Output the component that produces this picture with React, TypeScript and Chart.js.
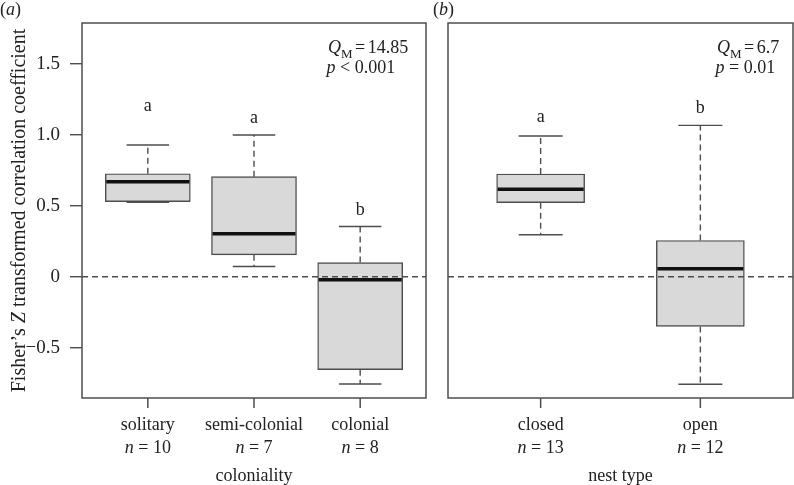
import React, { useEffect, useRef } from "react";
import { Chart, registerables } from "chart.js";

Chart.register(...registerables);

// ---------- data ----------
const colonialityGroups = ["solitary", "semi-colonial", "colonial"];
const colonialityN = [10, 7, 8];
const colonialityUpper = [0.93, 1.0, 0.355];
const colonialityQ3 = [0.727, 0.706, 0.1];
const colonialityMedian = [0.671, 0.303, -0.021];
const colonialityQ1 = [0.53, 0.155, -0.655];
const colonialityLower = [0.526, 0.073, -0.756];
const colonialityLetters = ["a", "a", "b"];
const colonialityLetterY = [1.169, 1.087, 0.437];
const colonialityQM = "14.85";
const colonialityP = "< 0.001";

const nestGroups = ["closed", "open"];
const nestN = [13, 12];
const nestUpper = [0.993, 1.068];
const nestQ3 = [0.725, 0.256];
const nestMedian = [0.617, 0.056];
const nestQ1 = [0.523, -0.35];
const nestLower = [0.296, -0.758];
const nestLetters = ["a", "b"];
const nestLetterY = [1.092, 1.153];
const nestQM = "6.7";
const nestP = "= 0.01";

const yTickValues = [-0.5, 0, 0.5, 1.0, 1.5];
const yTickLabels = ["\u22120.5", "0", "0.5", "1.0", "1.5"];
const yMin = -0.855;
const yMax = 1.79;
const yTitle = ["Fisher\u2019s ", "Z", " transformed correlation coefficient"];

// ---------- helpers ----------
const FONT = '"Liberation Serif", "Times New Roman", Times, serif';
const INK = "#222";
const LINE = "#4d4d4d";

type Part = { text: string; italic?: boolean; sub?: boolean; dx?: number };

function drawRich(ctx: CanvasRenderingContext2D, parts: Part[], x: number, y: number, size: number, align: "left" | "center") {
  const fontFor = (p: Part) => `${p.italic ? "italic " : ""}${p.sub ? Math.round(size * 0.72) : size}px ${FONT}`;
  const widths = parts.map((p) => {
    ctx.font = fontFor(p);
    return ctx.measureText(p.text).width + (p.dx || 0);
  });
  const total = widths.reduce((a, b) => a + b, 0);
  let cx = align === "center" ? x - total / 2 : x;
  ctx.textAlign = "left";
  ctx.textBaseline = "alphabetic";
  parts.forEach((p, i) => {
    ctx.font = fontFor(p);
    ctx.fillText(p.text, cx + (p.dx || 0), y + (p.sub ? size * 0.28 : 0));
    cx += widths[i];
  });
}

type PanelCfg = {
  groups: string[];
  n: number[];
  upper: number[];
  q3: number[];
  median: number[];
  q1: number[];
  lower: number[];
  letters: string[];
  letterY: number[];
  qm: string;
  p: string;
  xMin: number;
  xMax: number;
  boxPx: number;
  showY: boolean;
  panel: string;
  panelX: number;
  xTitle: string;
  statOffset: number;
  padLeft: number;
  padRight: number;
};

function makeChart(canvas: HTMLCanvasElement, c: PanelCfg) {
  const overlay = {
    id: "boxExtras",
    afterDatasetsDraw(chart: any) {
      const ctx: CanvasRenderingContext2D = chart.ctx;
      const xs = chart.scales.x;
      const ys = chart.scales.y;
      const area = chart.chartArea;
      const meta = chart.getDatasetMeta(0);
      ctx.save();
      ctx.setLineDash([]);
      c.groups.forEach((_, i) => {
        const el = meta.data[i];
        const px = el.x;
        const half = el.width / 2;
        const cap = el.width / 4;
        // whiskers (dashed)
        ctx.strokeStyle = LINE;
        ctx.lineWidth = 1.4;
        ctx.setLineDash([6, 4]);
        ctx.beginPath();
        ctx.moveTo(px, ys.getPixelForValue(c.q3[i]));
        ctx.lineTo(px, ys.getPixelForValue(c.upper[i]));
        ctx.moveTo(px, ys.getPixelForValue(c.q1[i]));
        ctx.lineTo(px, ys.getPixelForValue(c.lower[i]));
        ctx.stroke();
        // caps
        ctx.setLineDash([]);
        ctx.beginPath();
        ctx.moveTo(px - cap, ys.getPixelForValue(c.upper[i]));
        ctx.lineTo(px + cap, ys.getPixelForValue(c.upper[i]));
        ctx.moveTo(px - cap, ys.getPixelForValue(c.lower[i]));
        ctx.lineTo(px + cap, ys.getPixelForValue(c.lower[i]));
        ctx.stroke();
        // median
        ctx.strokeStyle = "#111";
        ctx.lineWidth = 3.5;
        ctx.beginPath();
        ctx.moveTo(px - half + 1, ys.getPixelForValue(c.median[i]));
        ctx.lineTo(px + half - 1, ys.getPixelForValue(c.median[i]));
        ctx.stroke();
        // letters
        ctx.fillStyle = INK;
        const gx = xs.getPixelForValue(i + 1);
        drawRich(ctx, [{ text: c.letters[i] }], gx, ys.getPixelForValue(c.letterY[i]), 18, "center");
        // group name and n = ...
        drawRich(ctx, [{ text: c.groups[i] }], gx, area.bottom + 32, 18, "center");
        drawRich(ctx, [{ text: "n", italic: true }, { text: " = " + c.n[i] }], gx, area.bottom + 55, 18, "center");
      });
      // zero reference line
      ctx.strokeStyle = LINE;
      ctx.lineWidth = 1.4;
      ctx.setLineDash([6, 4]);
      ctx.beginPath();
      const y0 = ys.getPixelForValue(0);
      ctx.moveTo(area.left, y0);
      ctx.lineTo(area.right, y0);
      ctx.stroke();
      ctx.setLineDash([]);
      // frame
      ctx.strokeStyle = LINE;
      ctx.lineWidth = 1.5;
      ctx.strokeRect(area.left, area.top, area.right - area.left, area.bottom - area.top);
      // statistics
      ctx.fillStyle = INK;
      const sx = area.right + c.statOffset;
      drawRich(
        ctx,
        [{ text: "Q", italic: true }, { text: "M", sub: true }, { text: "=", dx: 2.5 }, { text: c.qm, dx: 2.5 }],
        sx,
        area.top + 30,
        18,
        "left"
      );
      drawRich(ctx, [{ text: "p", italic: true }, { text: " " + c.p }], sx - 1.5, area.top + 50, 18, "left");
      // panel label
      drawRich(ctx, [{ text: "(" }, { text: c.panel, italic: true }, { text: ")" }], c.panelX, 15, 18, "left");
      // x axis title
      drawRich(ctx, [{ text: c.xTitle }], (area.left + area.right) / 2, area.bottom + 82.5, 18, "center");
      // y axis title
      if (c.showY) {
        ctx.save();
        ctx.translate(25, (area.top + area.bottom) / 2);
        ctx.rotate(-Math.PI / 2);
        drawRich(ctx, [{ text: yTitle[0] }, { text: yTitle[1], italic: true }, { text: yTitle[2] }], 0, 0, 20, "center");
        ctx.restore();
      }
      ctx.restore();
    },
    afterDraw(chart: any) {
      // x-axis tick marks at group positions (drawn last)
      const ctx: CanvasRenderingContext2D = chart.ctx;
      const xs = chart.scales.x;
      const area = chart.chartArea;
      ctx.save();
      ctx.globalCompositeOperation = "source-over";
      ctx.globalAlpha = 1;
      ctx.fillStyle = LINE;
      c.groups.forEach((_, i) => {
        const tx = xs.getPixelForValue(i + 1);
        ctx.fillRect(tx - 0.75, area.bottom, 1.5, 10);
      });
      ctx.restore();
    },
  };

  return new Chart(canvas, {
    type: "bar",
    data: {
      datasets: [
        {
          data: c.groups.map((_, i) => ({ x: i + 1, y: [c.q1[i], c.q3[i]] })) as any,
          backgroundColor: "#d9d9d9",
          borderColor: LINE,
          borderWidth: 1.4,
          borderSkipped: false,
          barThickness: c.boxPx,
        },
      ],
    },
    options: {
      animation: false,
      responsive: false,
      layout: { padding: { left: c.padLeft, right: c.padRight, top: 23, bottom: 0 } },
      plugins: { legend: { display: false }, tooltip: { enabled: false } },
      scales: {
        x: {
          type: "linear",
          min: c.xMin,
          max: c.xMax,
          offset: false,
          afterBuildTicks: (s: any) => {
            s.ticks = c.groups.map((_, i) => ({ value: i + 1 }));
          },
          afterFit: (s: any) => {
            s.height = 87;
          },
          ticks: { display: false },
          grid: { display: false },
          border: { display: false },
        },
        y: {
          type: "linear",
          min: yMin,
          max: yMax,
          display: c.showY,
          afterBuildTicks: (s: any) => {
            s.ticks = yTickValues.map((v) => ({ value: v }));
          },
          afterFit: (s: any) => {
            if (c.showY) s.width = 82;
          },
          ticks: {
            padding: 10,
            color: INK,
            font: { family: FONT, size: 19 },
            callback: (v: any) => {
              const idx = yTickValues.findIndex((t) => Math.abs(t - Number(v)) < 1e-9);
              return idx >= 0 ? yTickLabels[idx] : "";
            },
          },
          grid: { offset: false, drawOnChartArea: false, drawTicks: true, tickLength: 12, color: LINE, lineWidth: 1.4 },
          border: { display: false },
        },
      },
    },
    plugins: [overlay],
  } as any);
}

function Panel(props: { cfg: PanelCfg; left: number; width: number }) {
  const ref = useRef<HTMLCanvasElement | null>(null);
  useEffect(() => {
    if (!ref.current) return;
    const chart = makeChart(ref.current, props.cfg);
    return () => chart.destroy();
  }, []);
  return (
    <canvas
      ref={ref}
      width={props.width}
      height={485}
      style={{ position: "absolute", left: props.left, top: 0, width: props.width, height: 485 }}
    />
  );
}

const panelA: PanelCfg = {
  groups: colonialityGroups,
  n: colonialityN,
  upper: colonialityUpper,
  q3: colonialityQ3,
  median: colonialityMedian,
  q1: colonialityQ1,
  lower: colonialityLower,
  letters: colonialityLetters,
  letterY: colonialityLetterY,
  qm: colonialityQM,
  p: colonialityP,
  xMin: 0.38,
  xMax: 3.62,
  boxPx: 85,
  showY: true,
  panel: "a",
  panelX: 0,
  xTitle: "coloniality",
  statOffset: -98,
  padLeft: 0,
  padRight: 11,
};

const panelB: PanelCfg = {
  groups: nestGroups,
  n: nestN,
  upper: nestUpper,
  q3: nestQ3,
  median: nestMedian,
  q1: nestQ1,
  lower: nestLower,
  letters: nestLetters,
  letterY: nestLetterY,
  qm: nestQM,
  p: nestP,
  xMin: 0.42,
  xMax: 2.58,
  boxPx: 88,
  showY: false,
  panel: "b",
  panelX: 3,
  xTitle: "nest type",
  statOffset: -76,
  padLeft: 18,
  padRight: 1,
};

export default function App() {
  return (
    <div style={{ position: "fixed", left: 0, top: 0, width: 794, height: 485, background: "#fff", overflow: "hidden" }}>
      <Panel cfg={panelA} left={0} width={437} />
      <Panel cfg={panelB} left={430} width={364} />
    </div>
  );
}
